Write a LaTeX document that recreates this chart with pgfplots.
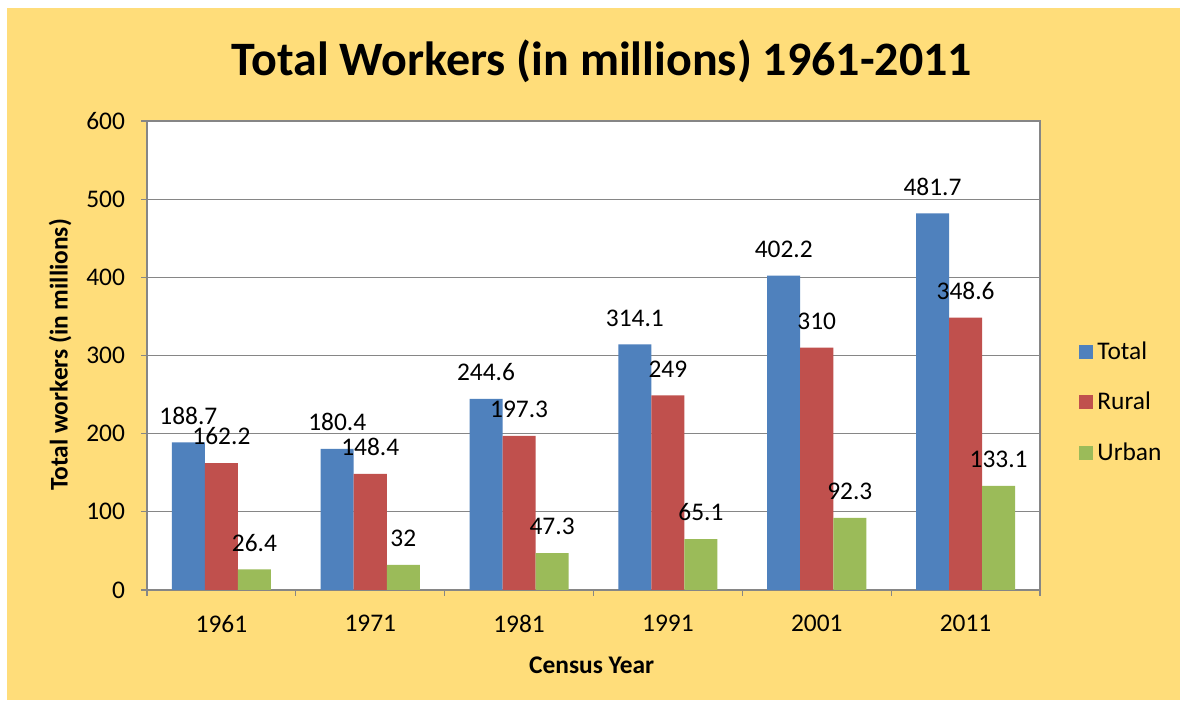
\documentclass[border=0pt]{standalone}
\usepackage{pgfplots}
\pgfplotsset{compat=1.18}
\usepackage{fontspec}
\setmainfont{Carlito}
\definecolor{bgyellow}{RGB}{255,221,122}
\definecolor{cTotal}{RGB}{79,129,189}
\definecolor{cRural}{RGB}{192,80,77}
\definecolor{cUrban}{RGB}{155,187,89}
\definecolor{gridgray}{RGB}{134,134,134}
\begin{document}
\begin{tikzpicture}
\path[use as bounding box] (0,0) rectangle (593.5pt,352pt);
\fill[bgyellow] (3.5pt,2pt) rectangle (590pt,348pt);
\begin{axis}[
  at={(73.5pt,57pt)}, anchor=south west,
  scale only axis, width=446.5pt, height=234.5pt,
  /pgf/number format/assume math mode=true,
  axis background/.style={fill=white},
  ybar, bar width=0.222,
  xmin=-0.5, xmax=5.5, ymin=0, ymax=600,
  xtick={0,...,5}, xticklabels={1961,1971,1981,1991,2001,2011},
  minor xtick={-0.5,0.5,...,5.5},
  ytick={0,100,...,600},
  xtick pos=bottom, ytick pos=left,
  ymajorgrids, major grid style={gridgray, line width=0.6pt},
  axis line style={gridgray, line width=0.6pt},
  tick style={gridgray, line width=0.6pt},
  tick align=outside, major tick length=3pt, minor tick length=3pt,
  every major x tick/.append style={draw=none},
  ticklabel style={font=\fontsize{12.7}{15}\selectfont},
  xticklabel style={yshift=-6pt},
  yticklabel style={xshift=-4.5pt},
  title={Total Workers (in millions) 1961-2011},
  title style={at={(0.5095,1.102)}, anchor=center, font=\fontsize{24}{29}\selectfont\bfseries},
  xlabel={Census Year},
  xlabel style={at={(axis description cs:0.498,-0.16)}, anchor=center, font=\fontsize{12.7}{15}\selectfont\bfseries},
  ylabel={Total workers (in millions)},
  ylabel style={at={(axis description cs:-0.0974,0.501)}, anchor=center, rotate=0, font=\fontsize{12.7}{15}\selectfont\bfseries},
  nodes near coords,
  every node near coord/.append style={font=\fontsize{12.7}{15}\selectfont, text=black, anchor=south, yshift=5.5pt},
  legend style={draw=none, fill=none, at={(1.037,0.40)}, anchor=west, font=\fontsize{12.7}{15}\selectfont, row sep=11pt},
  legend cell align=left,
  legend image code/.code={\fill[#1] (0pt,-3.5pt) rectangle (7pt,3.5pt);},
]
\addplot[fill=cTotal, draw=none, bar shift=-0.222] coordinates {(0,188.7) (1,180.4) (2,244.6) (3,314.1) (4,402.2) (5,481.7)};
\addplot[fill=cRural, draw=none, bar shift=0] coordinates {(0,162.2) (1,148.4) (2,197.3) (3,249) (4,310) (5,348.6)};
\addplot[fill=cUrban, draw=none, bar shift=0.222] coordinates {(0,26.4) (1,32) (2,47.3) (3,65.1) (4,92.3) (5,133.1)};
\legend{Total,Rural,Urban}
\end{axis}
\end{tikzpicture}
\end{document}
